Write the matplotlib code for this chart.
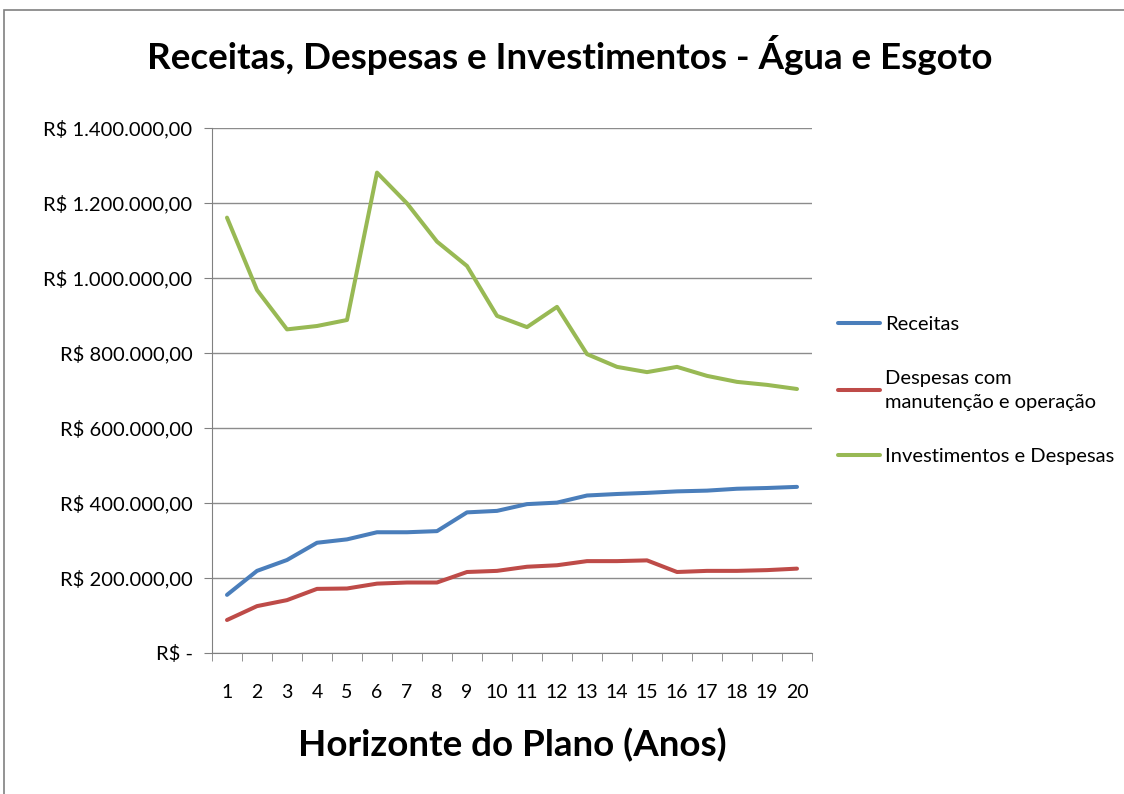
import numpy as np
import matplotlib
matplotlib.use("Agg")
import matplotlib.pyplot as plt
from matplotlib.patches import Rectangle
from matplotlib.ticker import FuncFormatter, MultipleLocator

plt.rcParams["font.family"] = ["Lato", "DejaVu Sans"]

# Dados (R$)
anos = list(range(1, 21))
receitas = [155000, 219000, 248000, 294000, 303000, 322000, 322000, 325000, 375000, 379000,
            397000, 401000, 420000, 424000, 427000, 431000, 433000, 438000, 440000, 443000]
despesas = [88000, 125000, 141000, 171000, 172000, 185000, 188000, 188000, 216000, 219000,
            230000, 234000, 245000, 245000, 247000, 216000, 219000, 219000, 221000, 225000]
investimentos = [1161000, 968000, 863000, 872000, 888000, 1281000, 1199000, 1097000, 1032000, 899000,
                 869000, 923000, 797000, 763000, 749000, 763000, 739000, 723000, 715000, 704000]

series = [
    ("Receitas", receitas, "#4A7EBB"),
    ("Despesas com\nmanutenção e operação", despesas, "#BE4B48"),
    ("Investimentos e Despesas", investimentos, "#98B954"),
]


def brl(v, pos=None):
    if v == 0:
        return "R$ -"
    s = f"{v:,.2f}".replace(",", "X").replace(".", ",").replace("X", ".")
    return "R$ " + s


fig = plt.figure(figsize=(11.24, 7.94), dpi=100)
fig.patches.append(Rectangle((4 / 1124, -0.1), 1.2, 0.1 + 784 / 794, transform=fig.transFigure,
                             fill=False, edgecolor="#808080", lw=1.2))

ax = fig.add_axes([212 / 1124, 141 / 794, 600 / 1124, 525 / 794])

for label, vals, color in series:
    ax.plot(anos, vals, color=color, lw=2.9, label=label, solid_capstyle="round",
            solid_joinstyle="round")

ax.set_xlim(0.5, 20.5)
ax.set_ylim(0, 1400000)
ax.yaxis.set_major_locator(MultipleLocator(200000))
ax.yaxis.set_major_formatter(FuncFormatter(brl))
ax.set_xticks(anos)
ax.set_xticks(np.arange(0.5, 21, 1), minor=True)
ax.tick_params(axis="x", which="major", length=0, labelsize=14, pad=22)
ax.tick_params(axis="x", which="minor", length=6, color="#808080", direction="out")
ax.tick_params(axis="y", length=6, color="#808080", direction="out", labelsize=14.5, pad=8)

ax.grid(axis="y", color="#8c8c8c", lw=1)
ax.set_axisbelow(True)
for side in ["top", "right"]:
    ax.spines[side].set_visible(False)
for side in ["left", "bottom"]:
    ax.spines[side].set_color("#808080")

fig.suptitle("Receitas, Despesas e Investimentos - Água e Esgoto", fontsize=26.5,
             fontweight="bold", x=570 / 1124, y=1 - 55 / 794, va="center")
fig.text(512 / 1124, 1 - 745 / 794, "Horizonte do Plano (Anos)", fontsize=26.5,
         fontweight="bold", ha="center", va="center")

leg = ax.legend(loc="center left", frameon=False, fontsize=14.5, handlelength=2.1,
                handletextpad=0.25, labelspacing=1.85, borderpad=0, borderaxespad=0)
leg.get_texts()[1].set_linespacing(1.5)
leg.set_bbox_to_anchor((1.043, 0.5), transform=ax.transAxes)

fig.savefig("out.png", dpi=100)
